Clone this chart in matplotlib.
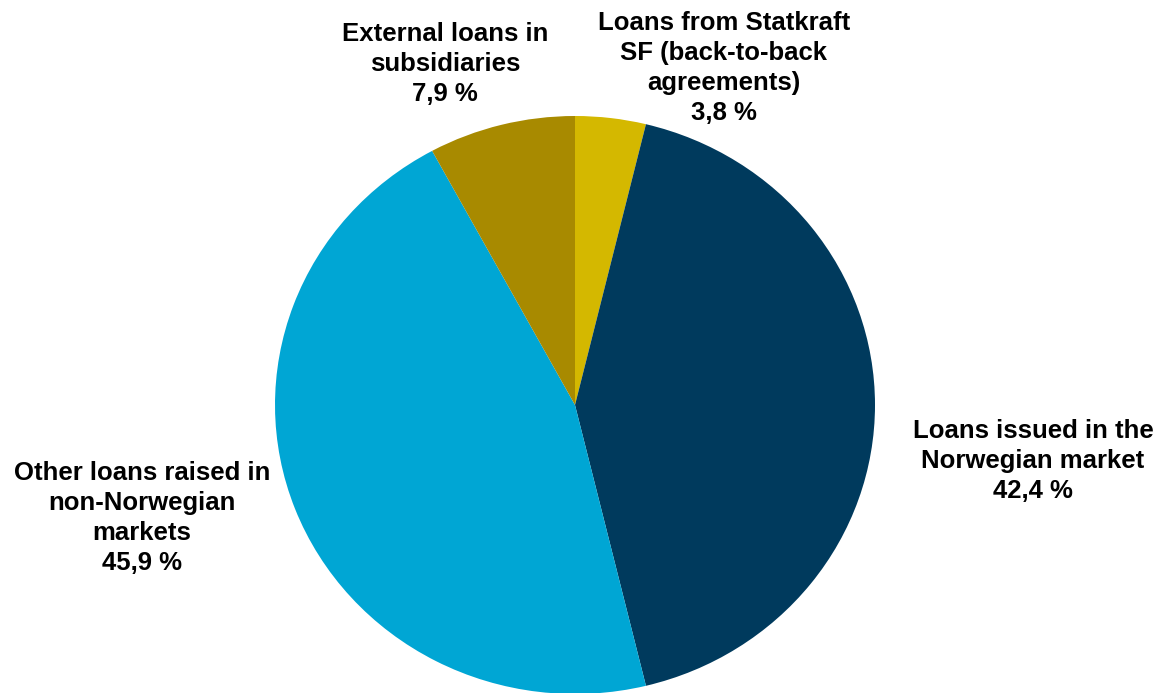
import matplotlib
matplotlib.use("Agg")
import matplotlib.pyplot as plt

categories = [
    "Loans from Statkraft\nSF (back-to-back\nagreements)",
    "Loans issued in the\nNorwegian market",
    "Other loans raised in\nnon-Norwegian\nmarkets",
    "External loans in\nsubsidiaries",
]
shares = [3.8, 42.4, 45.9, 7.9]
colors = ["#D4B800", "#003A5D", "#00A6D4", "#A88A00"]

# label centres in figure pixels (layout only)
label_pos = [(724, 68), (1033, 461), (142, 518), (445, 64)]

W, H = 1158, 693
fig = plt.figure(figsize=(W / 100, H / 100), dpi=100)
ax = fig.add_axes([275 / W, (H - 694) / H, 600 / W, 578 / H])
ax.pie(shares, colors=colors, startangle=90, counterclock=False, radius=1,
       wedgeprops=dict(linewidth=0))
ax.set_aspect("auto")
ax.set_xlim(-1, 1)
ax.set_ylim(-1, 1)
ax.axis("off")

for cat, val, (px, py) in zip(categories, shares, label_pos):
    txt = f"{cat}\n{val:.1f} %".replace(".", ",")
    fig.text(px / W, 1 - py / H, txt, ha="center", va="center",
             fontsize=18.5, fontweight="bold", family=["Liberation Sans", "DejaVu Sans"],
             color="black", multialignment="center", linespacing=1.32)

fig.savefig("out.png", dpi=100)
